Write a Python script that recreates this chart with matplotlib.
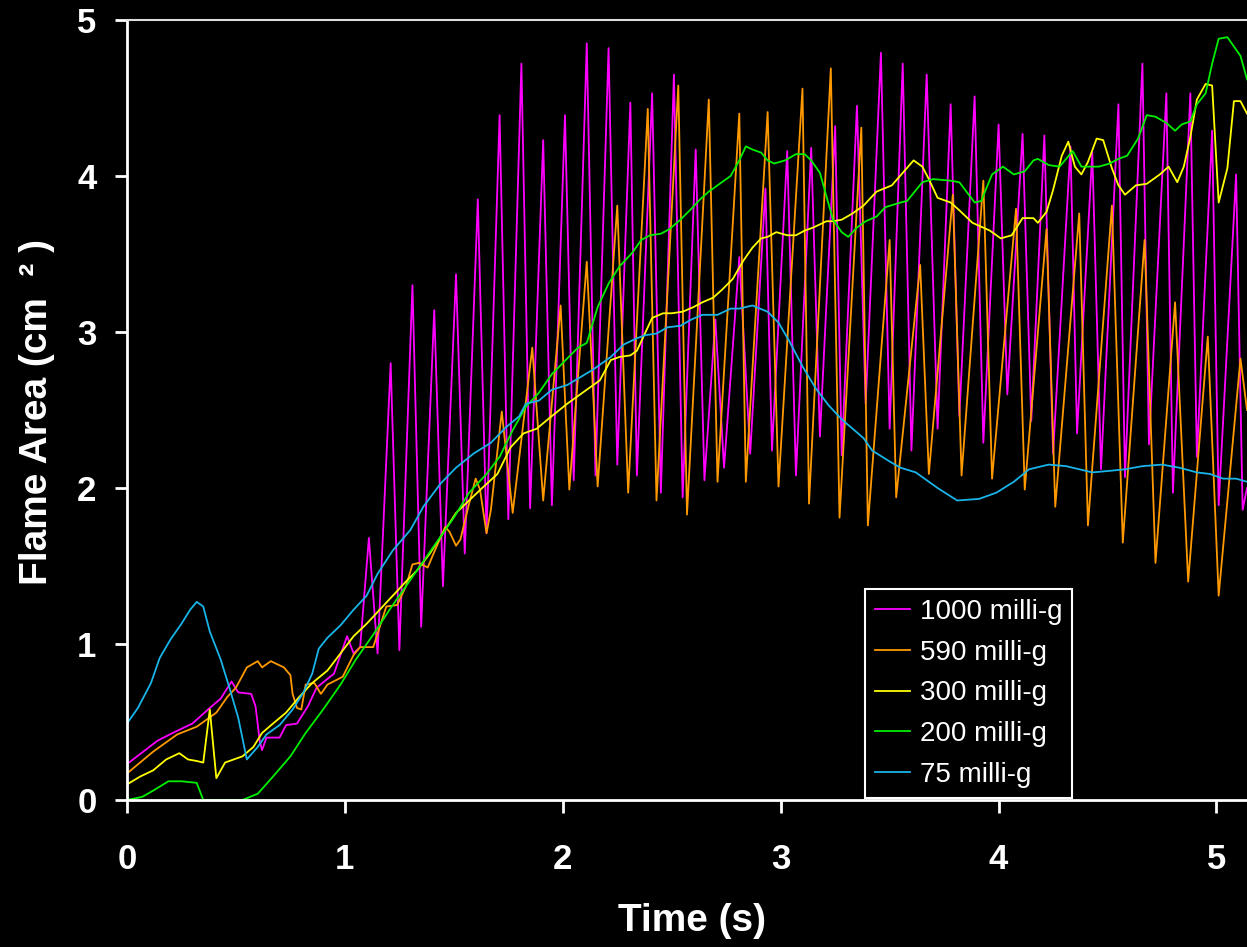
import matplotlib
matplotlib.use("Agg")
import matplotlib.pyplot as plt

plt.rcParams['font.family'] = ['Liberation Sans', 'DejaVu Sans']

# 1000 milli-g
t_1000 = [0, 0.14, 0.21, 0.30, 0.38, 0.43, 0.48, 0.51, 0.57, 0.59, 0.61, 0.62, 0.64, 0.70, 0.73, 0.78,
          0.83, 0.87, 0.95, 1.01, 1.04, 1.07, 1.11, 1.15, 1.21, 1.25, 1.31, 1.35, 1.41, 1.45, 1.51, 1.55,
          1.61, 1.65, 1.71, 1.75, 1.81, 1.85, 1.91, 1.95, 2.01, 2.05, 2.11, 2.15, 2.21, 2.25, 2.31, 2.34,
          2.41, 2.45, 2.51, 2.55, 2.61, 2.65, 2.70, 2.74, 2.81, 2.86, 2.93, 2.96, 3.03, 3.07, 3.14, 3.18,
          3.25, 3.28, 3.35, 3.39, 3.46, 3.50, 3.56, 3.60, 3.67, 3.72, 3.78, 3.82, 3.89, 3.93, 4.00, 4.04,
          4.11, 4.15, 4.21, 4.25, 4.33, 4.36, 4.43, 4.47, 4.55, 4.58, 4.66, 4.69, 4.77, 4.80, 4.88, 4.91,
          4.98, 5.01, 5.09, 5.12, 5.14]
a_1000 = [0.23, 0.38, 0.43, 0.49, 0.59, 0.65, 0.76, 0.69, 0.68, 0.60, 0.37, 0.32, 0.40, 0.40, 0.48, 0.49,
          0.60, 0.72, 0.81, 1.05, 0.94, 0.98, 1.68, 0.94, 2.80, 0.96, 3.30, 1.11, 3.14, 1.37, 3.37, 1.58,
          3.85, 1.71, 4.39, 1.80, 4.72, 1.87, 4.23, 1.89, 4.39, 2.05, 4.85, 2.08, 4.82, 2.15, 4.47, 2.08,
          4.53, 1.97, 4.65, 1.94, 4.17, 2.05, 3.08, 2.13, 3.48, 2.22, 3.92, 2.24, 4.16, 2.08, 4.18, 2.33,
          4.32, 2.21, 4.45, 2.54, 4.79, 2.38, 4.72, 2.24, 4.65, 2.38, 4.46, 2.46, 4.51, 2.29, 4.33, 2.60,
          4.27, 2.43, 4.26, 2.22, 4.19, 2.35, 4.15, 2.12, 4.46, 2.07, 4.72, 2.28, 4.53, 1.97, 4.53, 2.20,
          4.29, 1.89, 4.01, 1.86, 2.00]

# 590 milli-g
t_590 = [0, 0.12, 0.23, 0.32, 0.41, 0.46, 0.50, 0.55, 0.60, 0.62, 0.66, 0.72, 0.75, 0.76, 0.78, 0.80,
         0.82, 0.86, 0.89, 0.92, 0.99, 1.04, 1.07, 1.13, 1.19, 1.24, 1.28, 1.31, 1.34, 1.38, 1.41, 1.46,
         1.48, 1.51, 1.53, 1.57, 1.60, 1.62, 1.65, 1.67, 1.72, 1.77, 1.86, 1.91, 1.99, 2.03, 2.11, 2.16,
         2.25, 2.30, 2.39, 2.43, 2.53, 2.57, 2.67, 2.71, 2.81, 2.84, 2.94, 2.99, 3.10, 3.13, 3.23, 3.27,
         3.37, 3.40, 3.50, 3.53, 3.64, 3.68, 3.79, 3.83, 3.93, 3.97, 4.08, 4.12, 4.22, 4.26, 4.37, 4.41,
         4.52, 4.57, 4.67, 4.72, 4.81, 4.87, 4.96, 5.01, 5.11, 5.14]
a_590 = [0.17, 0.31, 0.42, 0.47, 0.56, 0.66, 0.72, 0.85, 0.89, 0.85, 0.89, 0.85, 0.80, 0.68, 0.59, 0.58,
         0.74, 0.75, 0.68, 0.74, 0.79, 0.93, 0.98, 0.98, 1.24, 1.25, 1.37, 1.51, 1.52, 1.49, 1.59, 1.75,
         1.72, 1.63, 1.67, 1.90, 2.06, 1.99, 1.71, 1.86, 2.49, 1.84, 2.90, 1.92, 3.17, 1.99, 3.45, 2.01,
         3.81, 1.97, 4.43, 1.92, 4.58, 1.83, 4.49, 2.04, 4.40, 2.04, 4.41, 2.01, 4.56, 1.90, 4.69, 1.81,
         4.31, 1.76, 3.59, 1.94, 3.43, 2.09, 3.88, 2.08, 3.97, 2.06, 3.79, 1.99, 3.66, 1.88, 3.76, 1.76,
         3.81, 1.65, 3.59, 1.52, 3.19, 1.40, 2.97, 1.31, 2.83, 2.50]

# 300 milli-g
t_300 = [0, 0.06, 0.12, 0.18, 0.24, 0.28, 0.32, 0.35, 0.38, 0.41, 0.45, 0.49, 0.53, 0.58, 0.62, 0.67,
         0.73, 0.79, 0.85, 0.92, 0.98, 1.04, 1.10, 1.16, 1.22, 1.28, 1.33, 1.39, 1.45, 1.51, 1.57, 1.63,
         1.70, 1.76, 1.82, 1.88, 1.94, 2.02, 2.08, 2.12, 2.17, 2.22, 2.26, 2.31, 2.34, 2.37, 2.41, 2.46,
         2.50, 2.55, 2.60, 2.64, 2.69, 2.73, 2.78, 2.83, 2.87, 2.91, 2.94, 2.98, 3.03, 3.07, 3.11, 3.15,
         3.21, 3.24, 3.28, 3.33, 3.38, 3.44, 3.51, 3.61, 3.65, 3.68, 3.72, 3.78, 3.82, 3.88, 3.96, 4.01,
         4.06, 4.11, 4.16, 4.18, 4.22, 4.25, 4.29, 4.32, 4.35, 4.38, 4.41, 4.45, 4.48, 4.52, 4.55, 4.58,
         4.63, 4.68, 4.74, 4.78, 4.82, 4.85, 4.88, 4.91, 4.95, 4.98, 5.01, 5.05, 5.08, 5.11, 5.14]
a_300 = [0.10, 0.15, 0.19, 0.26, 0.30, 0.26, 0.25, 0.24, 0.58, 0.14, 0.24, 0.26, 0.28, 0.34, 0.43, 0.49,
         0.56, 0.66, 0.75, 0.83, 0.94, 1.05, 1.13, 1.22, 1.31, 1.40, 1.47, 1.58, 1.71, 1.84, 1.92, 2.00,
         2.09, 2.26, 2.35, 2.38, 2.45, 2.54, 2.60, 2.64, 2.69, 2.82, 2.84, 2.85, 2.88, 2.97, 3.09, 3.12,
         3.12, 3.13, 3.16, 3.19, 3.22, 3.27, 3.34, 3.46, 3.54, 3.60, 3.61, 3.64, 3.62, 3.62, 3.65, 3.67,
         3.71, 3.71, 3.72, 3.76, 3.81, 3.90, 3.94, 4.10, 4.06, 3.98, 3.86, 3.83, 3.78, 3.70, 3.65, 3.60,
         3.62, 3.73, 3.73, 3.70, 3.77, 3.91, 4.13, 4.22, 4.06, 4.01, 4.09, 4.24, 4.23, 4.05, 3.94, 3.88,
         3.94, 3.95, 4.01, 4.06, 3.96, 4.06, 4.25, 4.49, 4.59, 4.58, 3.83, 4.05, 4.48, 4.48, 4.40]

# 200 milli-g
t_200 = [0, 0.07, 0.12, 0.19, 0.25, 0.32, 0.35, 0.53, 0.60, 0.67, 0.75, 0.82, 0.90, 0.98, 1.05, 1.13,
         1.21, 1.28, 1.34, 1.42, 1.50, 1.57, 1.65, 1.71, 1.77, 1.83, 1.89, 1.95, 2.02, 2.07, 2.11, 2.16,
         2.21, 2.26, 2.32, 2.36, 2.40, 2.45, 2.49, 2.54, 2.59, 2.63, 2.67, 2.72, 2.77, 2.81, 2.84, 2.87,
         2.91, 2.94, 2.97, 3.02, 3.07, 3.11, 3.14, 3.18, 3.21, 3.24, 3.28, 3.31, 3.35, 3.39, 3.44, 3.48,
         3.55, 3.58, 3.65, 3.70, 3.78, 3.82, 3.89, 3.92, 3.97, 4.02, 4.07, 4.12, 4.16, 4.18, 4.23, 4.28,
         4.34, 4.38, 4.46, 4.51, 4.55, 4.59, 4.64, 4.68, 4.72, 4.77, 4.81, 4.84, 4.88, 4.91, 4.95, 4.98,
         5.01, 5.05, 5.08, 5.11, 5.14]
a_200 = [0.00, 0.02, 0.06, 0.12, 0.12, 0.11, 0.00, 0.00, 0.04, 0.15, 0.28, 0.43, 0.58, 0.74, 0.90, 1.06,
         1.23, 1.37, 1.49, 1.65, 1.81, 1.97, 2.09, 2.20, 2.37, 2.52, 2.61, 2.73, 2.83, 2.90, 2.93, 3.16,
         3.31, 3.42, 3.51, 3.59, 3.62, 3.63, 3.66, 3.72, 3.79, 3.85, 3.90, 3.95, 4.00, 4.10, 4.19, 4.17,
         4.15, 4.10, 4.08, 4.10, 4.14, 4.14, 4.10, 4.02, 3.87, 3.72, 3.64, 3.61, 3.67, 3.71, 3.74, 3.80,
         3.83, 3.84, 3.96, 3.98, 3.97, 3.96, 3.83, 3.84, 4.01, 4.06, 4.01, 4.03, 4.10, 4.11, 4.07, 4.06,
         4.16, 4.06, 4.06, 4.08, 4.11, 4.13, 4.24, 4.39, 4.38, 4.34, 4.29, 4.33, 4.35, 4.46, 4.53, 4.72,
         4.88, 4.89, 4.83, 4.77, 4.62]

# 75 milli-g
t_75 = [0, 0.05, 0.11, 0.15, 0.20, 0.25, 0.29, 0.32, 0.35, 0.38, 0.43, 0.47, 0.51, 0.55, 0.60, 0.64,
        0.70, 0.76, 0.81, 0.85, 0.88, 0.92, 0.98, 1.04, 1.10, 1.15, 1.22, 1.30, 1.36, 1.44, 1.51, 1.59,
        1.67, 1.74, 1.80, 1.83, 1.89, 1.95, 2.02, 2.08, 2.14, 2.22, 2.28, 2.34, 2.38, 2.43, 2.48, 2.54,
        2.59, 2.64, 2.71, 2.77, 2.81, 2.87, 2.94, 2.99, 3.04, 3.10, 3.16, 3.22, 3.28, 3.33, 3.38, 3.42,
        3.50, 3.55, 3.62, 3.72, 3.81, 3.91, 3.99, 4.07, 4.14, 4.23, 4.31, 4.37, 4.43, 4.51, 4.58, 4.66,
        4.75, 4.83, 4.91, 4.97, 5.03, 5.09, 5.14]
a_75 = [0.49, 0.59, 0.75, 0.91, 1.03, 1.13, 1.22, 1.27, 1.24, 1.08, 0.90, 0.72, 0.53, 0.26, 0.34, 0.42,
        0.48, 0.58, 0.69, 0.81, 0.97, 1.04, 1.12, 1.22, 1.31, 1.45, 1.60, 1.73, 1.88, 2.03, 2.13, 2.22,
        2.29, 2.39, 2.46, 2.54, 2.56, 2.63, 2.66, 2.71, 2.76, 2.84, 2.92, 2.96, 2.98, 2.99, 3.03, 3.04,
        3.08, 3.11, 3.11, 3.15, 3.15, 3.17, 3.13, 3.06, 2.94, 2.78, 2.64, 2.53, 2.44, 2.38, 2.32, 2.24,
        2.17, 2.13, 2.10, 2.00, 1.92, 1.93, 1.97, 2.04, 2.12, 2.15, 2.14, 2.12, 2.10, 2.11, 2.12, 2.14,
        2.15, 2.13, 2.10, 2.09, 2.06, 2.06, 2.04]

series = [
    (t_1000, a_1000, '#FF00FF', '1000 milli-g'),
    (t_590, a_590, '#FF9900', '590 milli-g'),
    (t_300, a_300, '#FFFF00', '300 milli-g'),
    (t_200, a_200, '#00EE00', '200 milli-g'),
    (t_75, a_75, '#19B4E8', '75 milli-g'),
]

fig = plt.figure(figsize=(12.47, 9.47), dpi=100, facecolor='black')
ax = fig.add_axes([127 / 1247, 1 - 800 / 947, 1 - 127 / 1247, 780 / 947])
ax.set_facecolor('black')

for t, a, c, lab in series:
    ax.plot(t, a, color=c, lw=1.3, label=lab)

ax.set_xlim(0, 5.14)
ax.set_ylim(0, 5)
ax.set_xticks([0, 1, 2, 3, 4, 5])
ax.set_yticks([0, 1, 2, 3, 4, 5])

for s in ['left', 'bottom']:
    ax.spines[s].set_color('white')
    ax.spines[s].set_linewidth(2)
ax.spines['top'].set_color('#dddddd')
ax.spines['top'].set_linewidth(1.5)
ax.spines['right'].set_visible(False)

ax.tick_params(axis='both', colors='white', length=9, width=2, direction='out')
ax.tick_params(axis='x', pad=22)
ax.tick_params(axis='y', pad=13)
for lbl in ax.get_xticklabels() + ax.get_yticklabels():
    lbl.set_fontsize(25)
    lbl.set_fontweight('bold')
    lbl.set_color('white')

fig.text(692 / 1247, 1 - 921 / 947, 'Time (s)', color='white', fontsize=28,
         fontweight='bold', ha='center', va='center')
fig.text(37 / 1247, 1 - 412 / 947, 'Flame Area (cm  \u00b2 )', color='white', fontsize=28,
         fontweight='bold', ha='center', va='center', rotation=90,
         family=['Liberation Sans Narrow', 'Liberation Sans', 'DejaVu Sans'])

leg = ax.legend(loc='lower left', bbox_to_anchor=(0.659, 0.003), fontsize=20,
                frameon=True, fancybox=False, framealpha=1, borderaxespad=0,
                handlelength=1.26, handletextpad=0.36, labelspacing=0.53, borderpad=0.35)
leg.get_frame().set_facecolor('black')
leg.get_frame().set_edgecolor('white')
leg.get_frame().set_linewidth(1.5)
for txt in leg.get_texts():
    txt.set_color('white')

fig.savefig('out.png', dpi=100, facecolor='black')
